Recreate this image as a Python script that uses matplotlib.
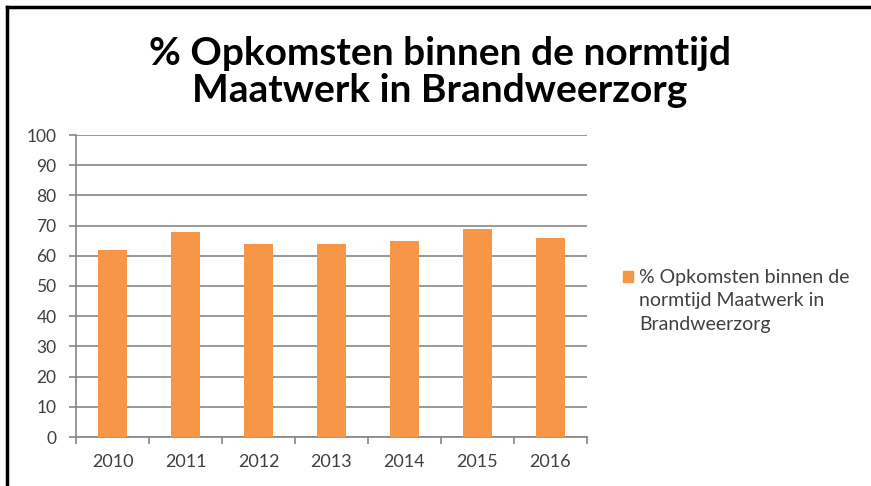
"""Staafdiagram: % opkomsten binnen de normtijd (Maatwerk in Brandweerzorg)."""

import matplotlib

matplotlib.use("Agg")
import matplotlib.pyplot as plt
import numpy as np
from matplotlib.lines import Line2D
from matplotlib.patches import Rectangle

years = ["2010", "2011", "2012", "2013", "2014", "2015", "2016"]
percentages = [62, 68, 64, 64, 65, 69, 66]
y_ticks = list(range(0, 101, 10))

title = "% Opkomsten binnen de normtijd\nMaatwerk in Brandweerzorg"
legend_label = "% Opkomsten binnen de\nnormtijd Maatwerk in\nBrandweerzorg"

BAR_COLOR = "#F79646"
GRID_COLOR = "#868686"
TEXT_COLOR = "#404040"

plt.rcParams["font.family"] = ["Lato", "DejaVu Sans"]

fig = plt.figure(figsize=(8.71, 4.86), dpi=100)
ax = fig.add_axes([76 / 871, 49 / 486, 511 / 871, 302 / 486])

x = np.arange(len(years))
ax.bar(x, percentages, width=0.4, color=BAR_COLOR, zorder=3)

ax.set_xlim(-0.5, len(years) - 0.5)
ax.set_ylim(0, 100)
ax.set_yticks(y_ticks)
ax.set_xticks(x)
ax.set_xticklabels(years)
ax.set_xticks(np.arange(-0.5, len(years)), minor=True)

ax.grid(axis="y", color=GRID_COLOR, linewidth=1.2, zorder=0)
for side in ("top", "right"):
    ax.spines[side].set_visible(False)
for side in ("left", "bottom"):
    ax.spines[side].set_color(GRID_COLOR)
    ax.spines[side].set_linewidth(1.2)

ax.tick_params(axis="y", length=5, width=1.2, color=GRID_COLOR, pad=9,
               labelsize=12.5, labelcolor=TEXT_COLOR)
ax.tick_params(axis="x", which="major", length=0, pad=12,
               labelsize=13, labelcolor=TEXT_COLOR)
ax.tick_params(axis="x", which="minor", length=5, width=1.2, color=GRID_COLOR)

fig.text(0.505, 0.852, title, ha="center", va="center", fontsize=28,
         fontweight="bold", color="black", linespacing=1.05)

# legenda, handmatig zodat het blokje bij de eerste regel staat
fig.patches.append(Rectangle((623 / 871, 1 - 282 / 486), 10 / 871, 11 / 486,
                             transform=fig.transFigure, color=BAR_COLOR))
fig.text(639 / 871, 1 - 269 / 486, legend_label, ha="left", va="top",
         fontsize=14, color=TEXT_COLOR, linespacing=1.45)

# zwarte rand links en boven (uitsnede van een schermafdruk)
fig.add_artist(Line2D([7 / 871, 7 / 871], [0, 1 - 7 / 486], color="black",
                      linewidth=2.5, transform=fig.transFigure))
fig.add_artist(Line2D([7 / 871, 1], [1 - 7 / 486, 1 - 7 / 486], color="black",
                      linewidth=2.5, transform=fig.transFigure))

fig.savefig("out.png", dpi=100)
